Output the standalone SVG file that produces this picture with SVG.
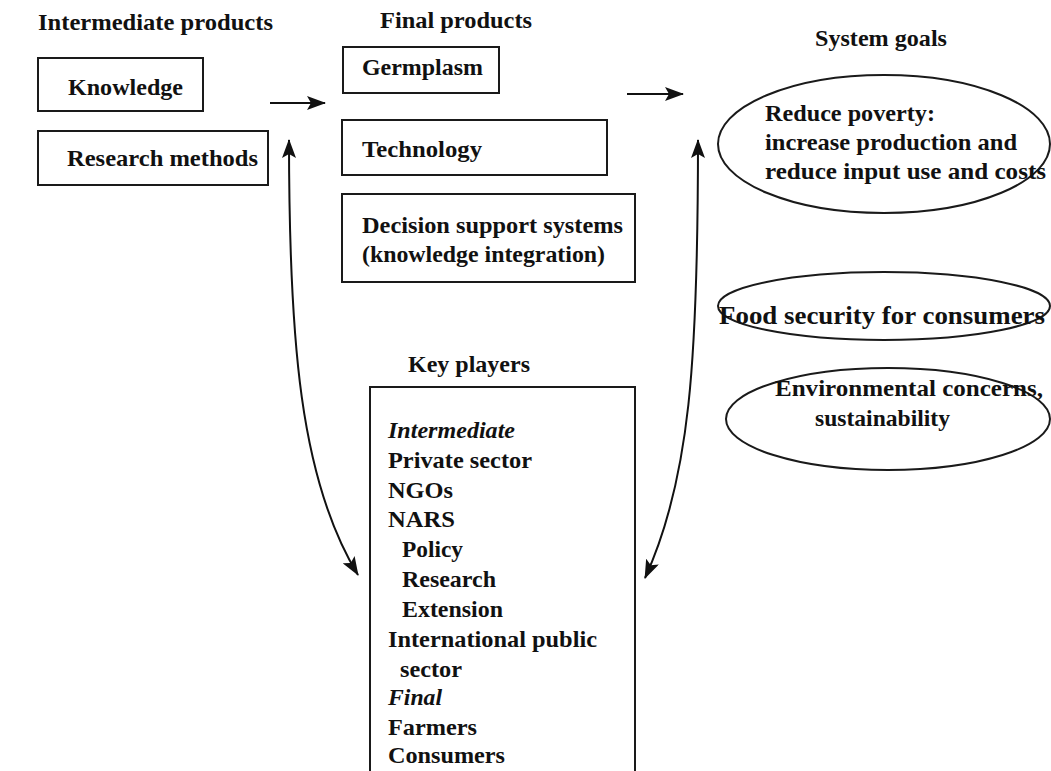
<svg xmlns="http://www.w3.org/2000/svg" width="1051" height="771" viewBox="0 0 1051 771">
<style>
text{font-family:"Liberation Serif","Times New Roman",serif;font-weight:bold;font-size:24px;fill:#111}
.i{font-style:italic}
.big{font-size:26px}
.box{fill:#fff;stroke:#1a1a1a;stroke-width:2}
.ell{fill:#fff;stroke:#1a1a1a;stroke-width:2}
.con{fill:none;stroke:#111;stroke-width:2}
</style>
<defs>
<marker id="ah" markerUnits="userSpaceOnUse" markerWidth="20" markerHeight="14" refX="18" refY="7" orient="auto-start-reverse">
<path d="M0,0 L19,7 L0,14 L4,7 z" fill="#111"/>
</marker>
</defs>
<rect width="1051" height="771" fill="#fff"/>

<g id="titles">
<text x="38" y="30" textLength="235" lengthAdjust="spacingAndGlyphs">Intermediate products</text>
<text x="380" y="28" textLength="152" lengthAdjust="spacingAndGlyphs">Final products</text>
<text x="815" y="46" textLength="132" lengthAdjust="spacingAndGlyphs">System goals</text>
<text x="408" y="372" textLength="122" lengthAdjust="spacingAndGlyphs">Key players</text>
</g>

<g id="knowledge">
<rect class="box" x="38" y="58" width="165" height="53"/>
<text x="68" y="95" textLength="115" lengthAdjust="spacingAndGlyphs">Knowledge</text>
</g>
<g id="research-methods">
<rect class="box" x="38" y="131" width="230" height="54"/>
<text x="67" y="166" textLength="191" lengthAdjust="spacingAndGlyphs">Research methods</text>
</g>

<g id="germplasm">
<rect class="box" x="343" y="47" width="156" height="46"/>
<text x="362" y="75" textLength="121" lengthAdjust="spacingAndGlyphs">Germplasm</text>
</g>
<g id="technology">
<rect class="box" x="342" y="120" width="265" height="55"/>
<text x="362" y="157" textLength="120" lengthAdjust="spacingAndGlyphs">Technology</text>
</g>
<g id="decision-support">
<rect class="box" x="342" y="194" width="293" height="88"/>
<text x="362" y="233" textLength="261" lengthAdjust="spacingAndGlyphs">Decision support systems</text>
<text x="362" y="262" textLength="243" lengthAdjust="spacingAndGlyphs">(knowledge integration)</text>
</g>

<g id="reduce-poverty">
<ellipse class="ell" cx="884" cy="144" rx="166" ry="69"/>
<text x="765" y="121" textLength="170" lengthAdjust="spacingAndGlyphs">Reduce poverty:</text>
<text x="765" y="150" textLength="252" lengthAdjust="spacingAndGlyphs">increase production and</text>
<text x="765" y="179" textLength="281" lengthAdjust="spacingAndGlyphs">reduce input use and costs</text>
</g>
<g id="food-security">
<ellipse class="ell" cx="884" cy="306" rx="166" ry="34"/>
<text x="719" y="324" class="big" textLength="326" lengthAdjust="spacingAndGlyphs">Food security for consumers</text>
</g>
<g id="environmental">
<ellipse class="ell" cx="888" cy="419" rx="162" ry="51"/>
<text x="775" y="396" textLength="268" lengthAdjust="spacingAndGlyphs">Environmental concerns,</text>
<text x="815" y="426" textLength="135" lengthAdjust="spacingAndGlyphs">sustainability</text>
</g>

<g id="key-players">
<rect class="box" x="370" y="387" width="265" height="400"/>
<text x="388" y="438" class="i" textLength="127" lengthAdjust="spacingAndGlyphs">Intermediate</text>
<text x="388" y="468" textLength="144" lengthAdjust="spacingAndGlyphs">Private sector</text>
<text x="388" y="498" textLength="65" lengthAdjust="spacingAndGlyphs">NGOs</text>
<text x="388" y="527" textLength="67" lengthAdjust="spacingAndGlyphs">NARS</text>
<text x="402" y="557" textLength="61" lengthAdjust="spacingAndGlyphs">Policy</text>
<text x="402" y="587" textLength="94" lengthAdjust="spacingAndGlyphs">Research</text>
<text x="402" y="617" textLength="101" lengthAdjust="spacingAndGlyphs">Extension</text>
<text x="388" y="647" textLength="209" lengthAdjust="spacingAndGlyphs">International public</text>
<text x="400" y="677" textLength="62" lengthAdjust="spacingAndGlyphs">sector</text>
<text x="388" y="705" class="i" textLength="54" lengthAdjust="spacingAndGlyphs">Final</text>
<text x="388" y="735" textLength="89" lengthAdjust="spacingAndGlyphs">Farmers</text>
<text x="388" y="763" textLength="117" lengthAdjust="spacingAndGlyphs">Consumers</text>
</g>

<g id="connectors">
<line class="con" x1="270" y1="103" x2="325" y2="103" marker-end="url(#ah)"/>
<line class="con" x1="627" y1="94" x2="683" y2="94" marker-end="url(#ah)"/>
<path class="con" d="M289,140 C289,340 300,480 358,575" marker-start="url(#ah)" marker-end="url(#ah)"/>
<path class="con" d="M698,140 C698,360 690,480 645,578" marker-start="url(#ah)" marker-end="url(#ah)"/>
</g>
</svg>
